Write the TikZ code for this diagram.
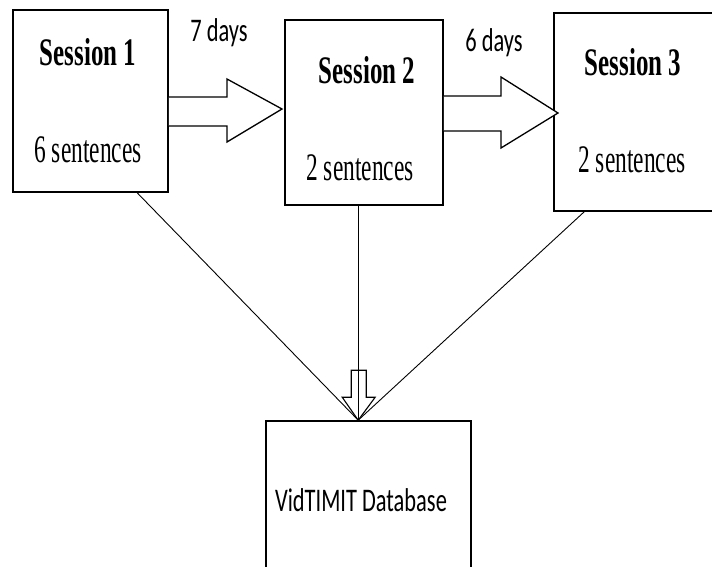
\documentclass[tikz,border=0pt]{standalone}
\usepackage{fontspec}
\usepackage{graphicx}
\setmainfont{Liberation Serif}
\newfontfamily\calfont{Carlito}
\usetikzlibrary{calc}
\newcommand\sertitle[1]{\scalebox{0.64}[1]{\fontsize{39}{41}\selectfont\bfseries #1}}
\newcommand\sersub[1]{\scalebox{0.6}[1]{\fontsize{39}{41}\selectfont #1}}
\newcommand\caltxt[1]{\scalebox{0.68}[1]{\calfont\fontsize{33}{35}\selectfont #1}}
\tikzset{
  box/.style={draw, line width=1.6pt, inner sep=0pt, fill=none},
  lbl/.style={inner sep=0pt, anchor=center},
  blockarrow/.style={draw, line width=1.3pt, line join=miter, fill=white},
  feed/.style={draw, line width=0.9pt}
}
\begin{document}
\begin{tikzpicture}[x=1pt,y=-1pt]
\clip (0,0) rectangle (712,567);
\fill[white] (0,0) rectangle (712,567);
% boxes
\node[box, minimum width=155pt, minimum height=182pt] (s1) at (90.5,101) {};
\node[box, minimum width=158pt, minimum height=185pt] (s2) at (364,112.5) {};
\node[box, minimum width=166pt, minimum height=198pt] (s3) at (637,112) {};
\node[box, minimum width=205pt, minimum height=160pt] (db) at (368.5,501) {};
% texts
\node[lbl] (t1) at (88,52) {\sertitle{Session 1}};
\node[lbl] (u1) at (88,150) {\sersub{6 sentences}};
\node[lbl] (t2) at (367,70) {\sertitle{Session 2}};
\node[lbl] (u2) at (360,168) {\sersub{2 sentences}};
\node[lbl] (t3) at (633,62) {\sertitle{Session 3}};
\node[lbl] (u3) at (632,160) {\sersub{2 sentences}};
\node[lbl] (d1) at (219,33) {\caltxt{7 days}};
\node[lbl] (d2) at (494,43) {\caltxt{6 days}};
\node[lbl] (dbt) at (361,500) {\caltxt{VidTIMIT Database}};
% block arrow 1
\draw[blockarrow] (s1.east |- 0,97) -- (227,97) -- (227,79) -- (282,109) -- (227,142) -- (227,126) -- (s1.east |- 0,126);
% block arrow 2
\draw[blockarrow] (s2.east |- 0,96) -- (501,96) -- (501,77) -- (558,113) -- (501,148) -- (501,131) -- (s2.east |- 0,131);
% converging lines
\coordinate (m) at ($(db.north west)+(93,0)$);
\coordinate (a1) at ($(s1.south west)+(125,0)$);
\coordinate (a2) at ($(s2.south west)+(74,0)$);
\coordinate (a3) at ($(s3.south west)+(31,0)$);
\coordinate (shtop) at ($(m)+(0,-50)$);
\draw[feed] (a1) -- (m);
\draw[feed] (a3) -- (m);
\draw[feed] (a2) -- (shtop);
% hollow down arrow
\draw[line width=1.1pt, fill=white] ($(m)+(-7,-50)$) -- ($(m)+(8,-50)$) -- ($(m)+(8,-23)$) -- ($(m)+(17,-23)$) -- (m) -- ($(m)+(-16,-23)$) -- ($(m)+(-7,-23)$) -- cycle;
\draw[feed] (a2) -- (m);
\end{tikzpicture}
\end{document}
